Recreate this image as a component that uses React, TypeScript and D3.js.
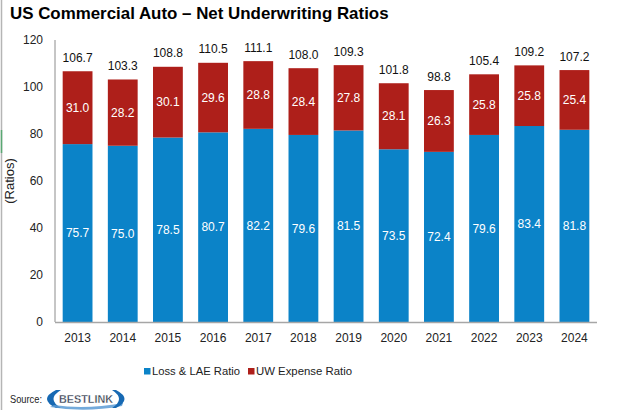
import React from "react";
import * as d3 from "d3";

const years = ["2013","2014","2015","2016","2017","2018","2019","2020","2021","2022","2023","2024"];
const lossLae = [75.7,75.0,78.5,80.7,82.2,79.6,81.5,73.5,72.4,79.6,83.4,81.8];
const uwExpense = [31.0,28.2,30.1,29.6,28.8,28.4,27.8,28.1,26.3,25.8,25.8,25.4];
const totals = [106.7,103.3,108.8,110.5,111.1,108.0,109.3,101.8,98.8,105.4,109.2,107.2];
const yTicks = [0,20,40,60,80,100,120];

const BLUE = "#0B83C8";
const RED = "#AE1F1A";
const FONT = "'Liberation Sans', Arial, sans-serif";

export default function App() {
  const W = 620, H = 416;
  const x0 = 55, x1 = 597, yTop = 40, yBot = 322;
  const x = d3.scaleBand<string>().domain(years).range([x0, x1]).paddingInner(0.34).paddingOuter(0.17);
  const y = d3.scaleLinear().domain([0, 120]).range([yBot, yTop]);
  const bw = x.bandwidth();

  return (
    <svg width={W} height={H} style={{ position: "absolute", left: 0, top: 0, background: "#fff" }} fontFamily={FONT}>
      <rect x={0} y={0} width={W} height={H} fill="#fff" />
      <line x1={1.5} y1={0} x2={1.5} y2={410} stroke="#b5b5b5" strokeWidth={1.5} />
      <line x1={1.5} y1={130} x2={1.5} y2={153} stroke="#5aa873" strokeWidth={1.5} />
      <text x={10} y={19} fontSize={16.9} fontWeight="bold" fill="#000">US Commercial Auto – Net Underwriting Ratios</text>

      {/* y axis */}
      <line x1={x0} y1={yTop} x2={x0} y2={yBot} stroke="#8c8c8c" strokeWidth={1} />
      {yTicks.map((t) => (
        <text key={t} x={43} y={y(t)} dy="0.35em" textAnchor="end" fontSize={12} fill="#222">{t}</text>
      ))}
      <text transform={`translate(14,181) rotate(-90)`} textAnchor="middle" fontSize={13} fill="#222">(Ratios)</text>

      {/* bars */}
      {years.map((yr, i) => {
        const bx = x(yr)!;
        const cx = bx + bw / 2;
        const l = lossLae[i], u = uwExpense[i];
        return (
          <g key={yr}>
            <rect x={bx} y={y(l)} width={bw} height={y(0) - y(l)} fill={BLUE} />
            <rect x={bx} y={y(l + u)} width={bw} height={y(l) - y(l + u)} fill={RED} />
            <text x={cx} y={(y(0) + y(l)) / 2} dy="0.35em" textAnchor="middle" fontSize={12} fill="#fff">{l.toFixed(1)}</text>
            <text x={cx} y={(y(l) + y(l + u)) / 2} dy="0.35em" textAnchor="middle" fontSize={12} fill="#fff">{u.toFixed(1)}</text>
            <text x={cx} y={y(totals[i]) - 9} textAnchor="middle" fontSize={12} fill="#111">{totals[i].toFixed(1)}</text>
            <text x={cx} y={338} dy="0.35em" textAnchor="middle" fontSize={12} fill="#222">{yr}</text>
          </g>
        );
      })}

      {/* x axis */}
      <line x1={x0} y1={yBot + 0.5} x2={x1} y2={yBot + 0.5} stroke="#a6a6a6" strokeWidth={1.5} />

      {/* legend */}
      <rect x={144} y={368} width={6.5} height={6.5} fill={BLUE} />
      <text x={152} y={371} dy="0.35em" fontSize={11.5} fill="#222" textLength={88} lengthAdjust="spacingAndGlyphs">Loss &amp; LAE Ratio</text>
      <rect x={248} y={368} width={6.5} height={6.5} fill={RED} />
      <text x={256} y={371} dy="0.35em" fontSize={11.5} fill="#222" textLength={96} lengthAdjust="spacingAndGlyphs">UW Expense Ratio</text>

      {/* source */}
      <text x={10} y={399} dy="0.35em" fontSize={10.5} fill="#222" textLength={32} lengthAdjust="spacingAndGlyphs">Source:</text>
      <g>
        <path d="M 56 390 Q 38 399 56 408 L 61 408 Q 46 399 61 390 Z" fill="#1769b3" />
        <path d="M 50 407 Q 85 413 122 406 L 123 403 Q 85 410 54 405 Z" fill="#5b9bd5" opacity={0.85} />
        <path d="M 116 390 Q 133 399 116 408 L 112 408 Q 126 399 112 390 Z" fill="#1769b3" />
        <text x={86} y={399} dy="0.36em" textAnchor="middle" fontSize={11} fontWeight="bold" fill="#2f3a4c" stroke="#fff" strokeWidth={0.3} textLength={54} lengthAdjust="spacingAndGlyphs">BESTLINK</text>
      </g>
    </svg>
  );
}
